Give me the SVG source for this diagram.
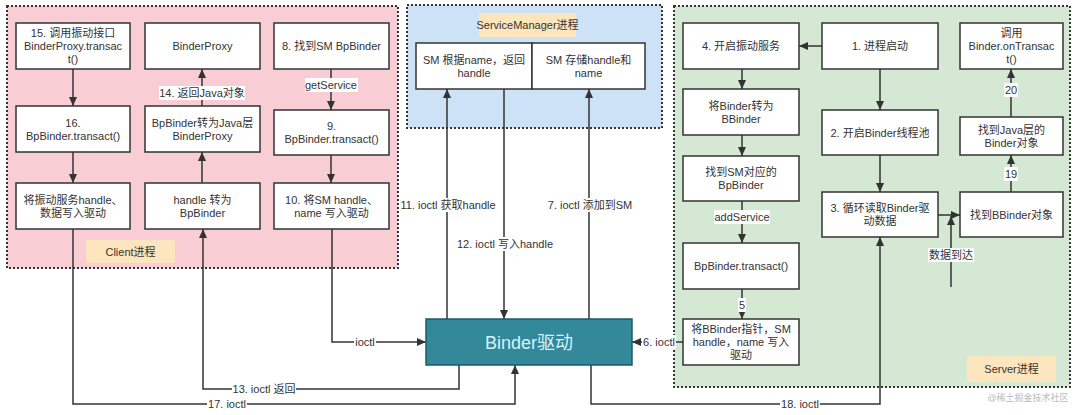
<svg xmlns="http://www.w3.org/2000/svg" width="1080" height="415" viewBox="0 0 1080 415">
<defs>
<style>
.box{fill:#fff;stroke:#333;stroke-width:1.5}
.t{font-family:"Liberation Sans","Noto Sans CJK SC",sans-serif;font-size:11px;fill:#333;text-anchor:middle}
.ln{fill:none;stroke:#333;stroke-width:1.5}
.bg{fill:#fff}
.cont{stroke:#333;stroke-width:2;stroke-dasharray:2 2}
.tag{fill:#FDE5BD}
</style>
<marker id="ah" markerUnits="userSpaceOnUse" markerWidth="9" markerHeight="8" refX="9" refY="4" orient="auto">
<path d="M0,0 L9,4 L0,8 z" fill="#333"/>
</marker>
</defs>
<rect width="1080" height="415" fill="#fff"/>

<g id="client-process">
<rect class="cont" x="7" y="6" width="391" height="262" fill="#F8CDD3"/>
<rect class="tag" x="86" y="240" width="89" height="23"/>
<text class="t" x="130.5" y="255.5">Client进程</text>
</g>
<g id="sm-process">
<rect class="cont" x="407" y="5" width="255" height="123" fill="#CDE1F7"/>
<rect class="tag" x="479" y="13" width="97" height="24"/>
<text class="t" x="527.5" y="29">ServiceManager进程</text>
</g>
<g id="server-process">
<rect class="cont" x="674" y="6" width="396" height="381" fill="#D5E8D4"/>
<rect class="tag" x="967" y="356" width="89" height="26"/>
<text class="t" x="1011.5" y="373">Server进程</text>
</g>

<g id="connectors">
<path class="ln" d="M73,69 V106" marker-end="url(#ah)"/>
<path class="ln" d="M73,152 V183" marker-end="url(#ah)"/>
<path class="ln" d="M202,183 V152" marker-end="url(#ah)"/>
<path class="ln" d="M202,106 V69" marker-end="url(#ah)"/>
<path class="ln" d="M331,69 V110" marker-end="url(#ah)"/>
<path class="ln" d="M331,155 V183" marker-end="url(#ah)"/>
<path class="ln" d="M332,229 V342 H426" marker-end="url(#ah)"/>
<path class="ln" d="M459,365 V389 H203 V229" marker-end="url(#ah)"/>
<path class="ln" d="M73,229 V404 H515 V365" marker-end="url(#ah)"/>
<path class="ln" d="M447,319 V89" marker-end="url(#ah)"/>
<path class="ln" d="M504,89 V319" marker-end="url(#ah)"/>
<path class="ln" d="M589,319 V89" marker-end="url(#ah)"/>
<path class="ln" d="M683,342 H632" marker-end="url(#ah)"/>
<path class="ln" d="M591,365 V404 H880 V237" marker-end="url(#ah)"/>
<path class="ln" d="M822,46 H799" marker-end="url(#ah)"/>
<path class="ln" d="M742,69 V89" marker-end="url(#ah)"/>
<path class="ln" d="M742,135 V156" marker-end="url(#ah)"/>
<path class="ln" d="M742,201 V243" marker-end="url(#ah)"/>
<path class="ln" d="M742,289 V319" marker-end="url(#ah)"/>
<path class="ln" d="M880,69 V110" marker-end="url(#ah)"/>
<path class="ln" d="M880,155 V192" marker-end="url(#ah)"/>
<path class="ln" d="M938,215 H960" marker-end="url(#ah)"/>
<path class="ln" d="M951,287 V216" marker-end="url(#ah)"/>
<path class="ln" d="M1011,192 V155" marker-end="url(#ah)"/>
<path class="ln" d="M1011,117 V69" marker-end="url(#ah)"/>

<rect class="bg" x="159" y="86" width="86" height="14"/>
<text class="t" x="202" y="97">14. 返回Java对象</text>
<rect class="bg" x="305" y="78" width="53" height="14"/>
<text class="t" x="331" y="89">getService</text>
<rect class="bg" x="400" y="198" width="96" height="14"/>
<text class="t" x="448" y="209">11. ioctl 获取handle</text>
<rect class="bg" x="457" y="237" width="96" height="14"/>
<text class="t" x="505" y="248">12. ioctl 写入handle</text>
<rect class="bg" x="548" y="198" width="84" height="14"/>
<text class="t" x="590" y="209">7. ioctl 添加到SM</text>
<rect class="bg" x="354" y="335" width="22" height="14"/>
<text class="t" x="365" y="346">ioctl</text>
<rect class="bg" x="642" y="335" width="34" height="14"/>
<text class="t" x="659" y="346">6. ioctl</text>
<rect class="bg" x="232" y="382" width="64" height="14"/>
<text class="t" x="264" y="393">13. ioctl 返回</text>
<rect class="bg" x="207" y="397" width="40" height="14"/>
<text class="t" x="227" y="408">17. ioctl</text>
<rect class="bg" x="780" y="397" width="40" height="14"/>
<text class="t" x="800" y="408">18. ioctl</text>
<rect class="bg" x="714" y="210" width="56" height="14"/>
<text class="t" x="742" y="221">addService</text>
<rect class="bg" x="738" y="298" width="8" height="14"/>
<text class="t" x="742" y="309">5</text>
<rect class="bg" x="1004" y="167" width="14" height="14"/>
<text class="t" x="1011" y="178">19</text>
<rect class="bg" x="1004" y="83" width="14" height="14"/>
<text class="t" x="1011" y="94">20</text>
<rect class="bg" x="928" y="248" width="46" height="14"/>
<text class="t" x="951" y="259">数据到达</text>
</g>

<g id="n15"><rect class="box" x="16" y="23" width="114" height="46"/>
<text class="t"><tspan x="73" y="37">15. 调用振动接口</tspan><tspan x="73" y="50">BinderProxy.transac</tspan><tspan x="73" y="63">t()</tspan></text></g>
<g id="n-binderproxy"><rect class="box" x="145" y="23" width="115" height="46"/>
<text class="t" x="202.5" y="50">BinderProxy</text></g>
<g id="n8"><rect class="box" x="274" y="23" width="115" height="46"/>
<text class="t" x="331.5" y="50">8. 找到SM BpBinder</text></g>
<g id="n16"><rect class="box" x="16" y="106" width="114" height="46"/>
<text class="t"><tspan x="73" y="126.5">16.</tspan><tspan x="73" y="139.5">BpBinder.transact()</tspan></text></g>
<g id="n-tojava"><rect class="box" x="145" y="106" width="115" height="46"/>
<text class="t"><tspan x="202.5" y="126.5">BpBinder转为Java层</tspan><tspan x="202.5" y="139.5">BinderProxy</tspan></text></g>
<g id="n9"><rect class="box" x="274" y="110" width="115" height="45"/>
<text class="t"><tspan x="331.5" y="130">9.</tspan><tspan x="331.5" y="143">BpBinder.transact()</tspan></text></g>
<g id="n-write-vib"><rect class="box" x="16" y="183" width="114" height="46"/>
<text class="t"><tspan x="73" y="203.5">将振动服务handle、</tspan><tspan x="73" y="216.5">数据写入驱动</tspan></text></g>
<g id="n-handle"><rect class="box" x="145" y="183" width="115" height="46"/>
<text class="t"><tspan x="202.5" y="203.5">handle 转为</tspan><tspan x="202.5" y="216.5">BpBinder</tspan></text></g>
<g id="n10"><rect class="box" x="274" y="183" width="115" height="46"/>
<text class="t"><tspan x="331.5" y="203.5">10. 将SM handle、</tspan><tspan x="331.5" y="216.5">name 写入驱动</tspan></text></g>

<g id="n-sm-return"><rect class="box" x="416" y="43" width="116" height="46"/>
<text class="t"><tspan x="474" y="63.5">SM 根据name，返回</tspan><tspan x="474" y="76.5">handle</tspan></text></g>
<g id="n-sm-store"><rect class="box" x="532" y="43" width="113" height="46"/>
<text class="t"><tspan x="588.5" y="63.5">SM 存储handle和</tspan><tspan x="588.5" y="76.5">name</tspan></text></g>

<g id="n-binder-driver"><rect x="426" y="319" width="206" height="46" fill="#33899A" stroke="#1E5A66" stroke-width="1.5"/>
<text x="529" y="348.5" font-family="Liberation Sans, Noto Sans CJK SC, sans-serif" font-size="18" fill="#D6F3FA" text-anchor="middle">Binder驱动</text></g>

<g id="n4"><rect class="box" x="683" y="23" width="116" height="46"/>
<text class="t" x="741" y="50">4. 开启振动服务</text></g>
<g id="n1"><rect class="box" x="822" y="23" width="116" height="46"/>
<text class="t" x="880" y="50">1. 进程启动</text></g>
<g id="n-ontransact"><rect class="box" x="960" y="23" width="103" height="46"/>
<text class="t"><tspan x="1011.5" y="37">调用</tspan><tspan x="1011.5" y="50">Binder.onTransac</tspan><tspan x="1011.5" y="63">t()</tspan></text></g>
<g id="n-tobbinder"><rect class="box" x="683" y="89" width="116" height="46"/>
<text class="t"><tspan x="741" y="109.5">将Binder转为</tspan><tspan x="741" y="122.5">BBinder</tspan></text></g>
<g id="n-findsm"><rect class="box" x="683" y="156" width="116" height="45"/>
<text class="t"><tspan x="741" y="176">找到SM对应的</tspan><tspan x="741" y="189">BpBinder</tspan></text></g>
<g id="n-transact-s"><rect class="box" x="683" y="243" width="116" height="46"/>
<text class="t" x="741" y="270">BpBinder.transact()</text></g>
<g id="n-write-bbinder"><rect class="box" x="683" y="319" width="116" height="46"/>
<text class="t"><tspan x="741" y="333">将BBinder指针，SM</tspan><tspan x="741" y="346">handle，name 写入</tspan><tspan x="741" y="359">驱动</tspan></text></g>
<g id="n2"><rect class="box" x="822" y="110" width="116" height="45"/>
<text class="t" x="880" y="136.5">2. 开启Binder线程池</text></g>
<g id="n3"><rect class="box" x="822" y="192" width="116" height="45"/>
<text class="t"><tspan x="880" y="212">3. 循环读取Binder驱</tspan><tspan x="880" y="225">动数据</tspan></text></g>
<g id="n-javabinder"><rect class="box" x="960" y="117" width="103" height="38"/>
<text class="t"><tspan x="1011.5" y="133.5">找到Java层的</tspan><tspan x="1011.5" y="146.5">Binder对象</tspan></text></g>
<g id="n-findbbinder"><rect class="box" x="960" y="192" width="103" height="45"/>
<text class="t" x="1011.5" y="218.5">找到BBinder对象</text></g>

<text x="1028" y="401" font-family="Liberation Sans, Noto Sans CJK SC, sans-serif" font-size="9" fill="#bbbbbb" text-anchor="middle">@稀土掘金技术社区</text>
</svg>
